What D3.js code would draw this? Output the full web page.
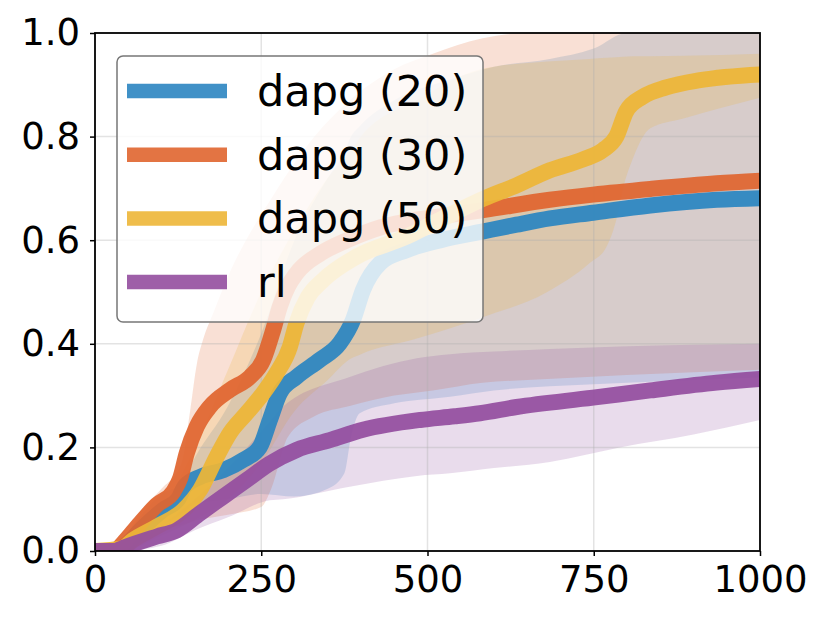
<!DOCTYPE html>
<html>
<head>
<meta charset="utf-8">
<script src="https://cdn.jsdelivr.net/npm/d3@7"></script>
<style>
  body { margin: 0; background: #fff; }
  svg { display: block; font-family: "DejaVu Sans", sans-serif; }
</style>
</head>
<body>
<svg id="chart" width="830" height="623"></svg>
<script>
// series names and colours
var names = ["dapg (20)", "dapg (30)", "dapg (50)", "rl"];
var colors = ["#2b85c1", "#e0652f", "#edb637", "#934e9f"];

var xTicks = [0, 250, 500, 750, 1000];
var yTicks = [0.0, 0.2, 0.4, 0.6, 0.8, 1.0];

// mean curves, [step, success]
var dapg20 = [[0,0],[30,0],[45,0.01],[68,0.04],[103,0.08],[125,0.1],[135,0.125],[158,0.143],[193,0.156],[223,0.176],[248,0.201],[263,0.253],[278,0.305],[303,0.336],[338,0.369],[368,0.401],[388,0.446],[403,0.504],[429,0.556],[469,0.581],[520,0.6],[584,0.617],[634,0.63],[684,0.642],[749,0.653],[835,0.667],[935,0.678],[1000,0.681]];
var dapg30 = [[0,0],[30,0],[42,0.015],[68,0.054],[93,0.089],[118,0.115],[128,0.14],[138,0.189],[153,0.24],[173,0.279],[203,0.311],[233,0.336],[253,0.369],[268,0.427],[278,0.472],[290,0.51],[303,0.536],[340,0.575],[379,0.6],[430,0.625],[479,0.639],[530,0.648],[584,0.658],[684,0.678],[749,0.688],[835,0.699],[935,0.71],[1000,0.715]];
var dapg50 = [[0,0],[40,0.005],[57,0.021],[93,0.047],[133,0.079],[158,0.118],[183,0.182],[203,0.228],[228,0.266],[253,0.305],[273,0.343],[293,0.394],[303,0.44],[320,0.49],[343,0.523],[393,0.568],[469,0.607],[520,0.64],[584,0.68],[634,0.706],[684,0.735],[734,0.756],[764,0.774],[784,0.8],[799,0.849],[824,0.877],[859,0.895],[910,0.909],[1000,0.92]];
var rl = [[0,0],[30,0],[42,0.006],[93,0.028],[123,0.04],[158,0.073],[193,0.105],[228,0.137],[263,0.169],[303,0.195],[353,0.214],[403,0.234],[489,0.253],[541,0.26],[579,0.266],[634,0.278],[749,0.296],[835,0.31],[935,0.325],[1000,0.332]];

// spread bands, [step, low, high]
var dapg20Band = [[0,0,0],[40,0,0.02],[70,0.02,0.07],[100,0.05,0.11],[130,0.07,0.13],[150,0.09,0.18],[200,0.1,0.28],[250,0.11,0.42],[300,0.105,0.6],[350,0.12,0.72],[375,0.15,0.77],[385,0.22,0.8],[398,0.266,0.82],[450,0.285,0.87],[534,0.298,0.91],[600,0.31,0.935],[684,0.318,0.95],[750,0.322,0.97],[800,0.325,1.0],[1000,0.335,1.0]];
var dapg30Band = [[0,0,0],[40,0,0.02],[70,0.02,0.08],[100,0.04,0.12],[130,0.05,0.17],[143,0.055,0.27],[153,0.06,0.36],[163,0.062,0.41],[178,0.065,0.46],[200,0.07,0.53],[250,0.085,0.65],[265,0.12,0.68],[290,0.22,0.73],[330,0.26,0.8],[383,0.28,0.87],[450,0.3,0.93],[508,0.31,0.96],[583,0.325,0.99],[650,0.33,1.0],[800,0.34,1.0],[1000,0.35,1.0]];
var dapg50Band = [[0,0,0],[40,0,0.01],[100,0.03,0.08],[150,0.06,0.2],[200,0.1,0.35],[250,0.17,0.5],[300,0.27,0.62],[350,0.33,0.72],[383,0.37,0.77],[400,0.38,0.8],[484,0.41,0.87],[580,0.45,0.93],[680,0.5,0.945],[744,0.556,0.95],[769,0.587,0.952],[784,0.64,0.953],[794,0.7,0.954],[809,0.758,0.955],[835,0.816,0.955],[885,0.835,0.956],[1000,0.875,0.96]];
var rlBand = [[0,0,0],[40,0,0.01],[100,0.01,0.05],[150,0.04,0.1],[200,0.065,0.16],[263,0.098,0.25],[283,0.1,0.279],[383,0.124,0.336],[484,0.145,0.372],[534,0.15,0.38],[600,0.16,0.385],[684,0.172,0.39],[789,0.2,0.395],[900,0.225,0.398],[1000,0.253,0.4]];

var means = [dapg20, dapg30, dapg50, rl];
var bands = [dapg20Band, dapg30Band, dapg50Band, rlBand];

var margin = {top: 33, right: 70, bottom: 72, left: 95};
var svg = d3.select("#chart");
var width = 830 - margin.left - margin.right;
var height = 623 - margin.top - margin.bottom;

var x = d3.scaleLinear().domain([0, 1000]).range([0, width]);
var y = d3.scaleLinear().domain([0, 1]).range([height, 0]);

var g = svg.append("g").attr("transform", "translate(" + margin.left + "," + margin.top + ")");

g.append("clipPath").attr("id", "clip")
  .append("rect").attr("width", width).attr("height", height);

var plot = g.append("g").attr("clip-path", "url(#clip)");

// bands first
var area = d3.area()
  .x(function(d) { return x(d[0]); })
  .y0(function(d) { return y(d[1]); })
  .y1(function(d) { return y(d[2]); })
  .curve(d3.curveMonotoneX);

bands.forEach(function(b, i) {
  plot.append("path")
    .datum(b)
    .attr("d", area)
    .attr("fill", colors[i])
    .attr("fill-opacity", 0.2);
});

// grid sits over the bands, under the lines
plot.selectAll(".gx").data(xTicks.slice(1, -1)).enter().append("line")
  .attr("x1", function(d) { return x(d); }).attr("x2", function(d) { return x(d); })
  .attr("y1", 0).attr("y2", height)
  .attr("stroke", "#b0b0b0").attr("stroke-opacity", 0.35).attr("stroke-width", 1.5);
plot.selectAll(".gy").data(yTicks.slice(1, -1)).enter().append("line")
  .attr("y1", function(d) { return y(d); }).attr("y2", function(d) { return y(d); })
  .attr("x1", 0).attr("x2", width)
  .attr("stroke", "#b0b0b0").attr("stroke-opacity", 0.35).attr("stroke-width", 1.5);

var line = d3.line()
  .x(function(d) { return x(d[0]); })
  .y(function(d) { return y(d[1]); })
  .curve(d3.curveMonotoneX);

means.forEach(function(m, i) {
  plot.append("path")
    .datum(m)
    .attr("d", line)
    .attr("fill", "none")
    .attr("stroke", colors[i])
    .attr("stroke-opacity", 0.93)
    .attr("stroke-width", 16)
    .attr("stroke-linecap", "round")
    .attr("stroke-linejoin", "round");
});

// axes
var xAxis = g.append("g")
  .attr("transform", "translate(0," + height + ")")
  .call(d3.axisBottom(x).tickValues(xTicks).tickSize(5).tickPadding(10).tickFormat(d3.format("d")));
var yAxis = g.append("g")
  .call(d3.axisLeft(y).tickValues(yTicks).tickSize(5).tickPadding(10).tickFormat(d3.format(".1f")));

[xAxis, yAxis].forEach(function(a) {
  a.select(".domain").remove();
  a.selectAll(".tick line").attr("stroke", "#000").attr("stroke-width", 1.5);
  a.selectAll(".tick text")
    .attr("fill", "#000")
    .style("font-family", "DejaVu Sans")
    .style("font-size", "37px");
});

g.append("rect")
  .attr("width", width).attr("height", height)
  .attr("fill", "none").attr("stroke", "#000").attr("stroke-width", 1.8);

// legend
var legend = g.append("g").attr("transform", "translate(22,23)");
legend.append("rect")
  .attr("width", 366).attr("height", 266)
  .attr("rx", 6).attr("ry", 6)
  .attr("fill", "#fff").attr("fill-opacity", 0.8)
  .attr("stroke", "#777").attr("stroke-width", 1.5);

var rows = legend.selectAll(".row").data(names).enter().append("g")
  .attr("transform", function(d, i) { return "translate(0," + (35 + i * 63.7) + ")"; });
rows.append("line")
  .attr("x1", 10).attr("x2", 110)
  .attr("stroke", function(d, i) { return colors[i]; })
  .attr("stroke-opacity", 0.9)
  .attr("stroke-width", 14.5);
rows.append("text")
  .attr("x", 140).attr("y", 15)
  .style("font-size", "43px")
  .attr("fill", "#000")
  .text(function(d) { return d; });
</script>
</body>
</html>
